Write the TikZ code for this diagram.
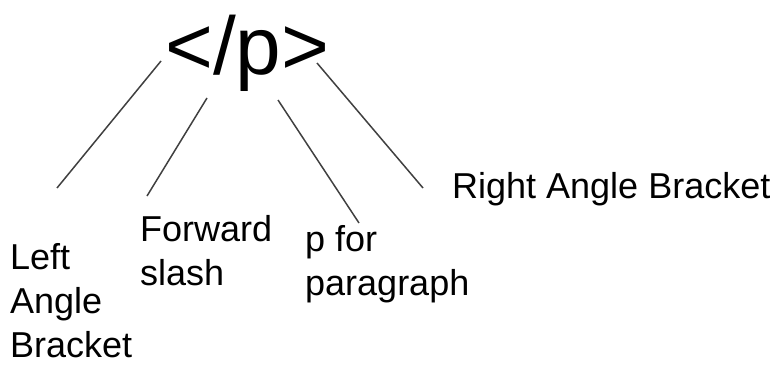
\documentclass[tikz,border=0pt]{standalone}
\usepackage{fontspec}
\setmainfont{Liberation Sans}
\usetikzlibrary{positioning}
\begin{document}
\begin{tikzpicture}[x=1pt,y=-1pt,
    tagtext/.style={inner sep=0pt, anchor=base west, font=\fontsize{82}{96}\selectfont},
    partlabel/.style={inner sep=0pt, anchor=base west, align=left, font=\fontsize{36}{44}\selectfont},
    pointer/.style={draw=black!75, line width=1.5pt}]
    \useasboundingbox (0,0) rectangle (783,364);
    % the closing tag
    \node[tagtext] (tag) at (165,74) {</p>};
    % labels under the tag (base = last line)
    \node[partlabel] (leftlbl) at (10,357) {Left\\Angle\\Bracket};
    \node[partlabel] (slashlbl) at (140,285) {Forward\\slash};
    \node[partlabel] (plbl) at (305,295) {p for\\paragraph};
    \node[partlabel] (rightlbl) at (452,198) {Right Angle Bracket};
    % pointer ends
    \coordinate (ltop) at (161,61);
    \coordinate (lend) at (57,188);
    \coordinate (stop) at (207,98);
    \coordinate (send) at (147,196);
    \coordinate (ptop) at (278,100);
    \coordinate (pend) at (359,223);
    \coordinate (rtop) at (317,63);
    \coordinate (rend) at (423,188);
    \draw[pointer] (ltop) -- (lend);
    \draw[pointer] (stop) -- (send);
    \draw[pointer] (ptop) -- (pend);
    \draw[pointer] (rtop) -- (rend);
\end{tikzpicture}
\end{document}
